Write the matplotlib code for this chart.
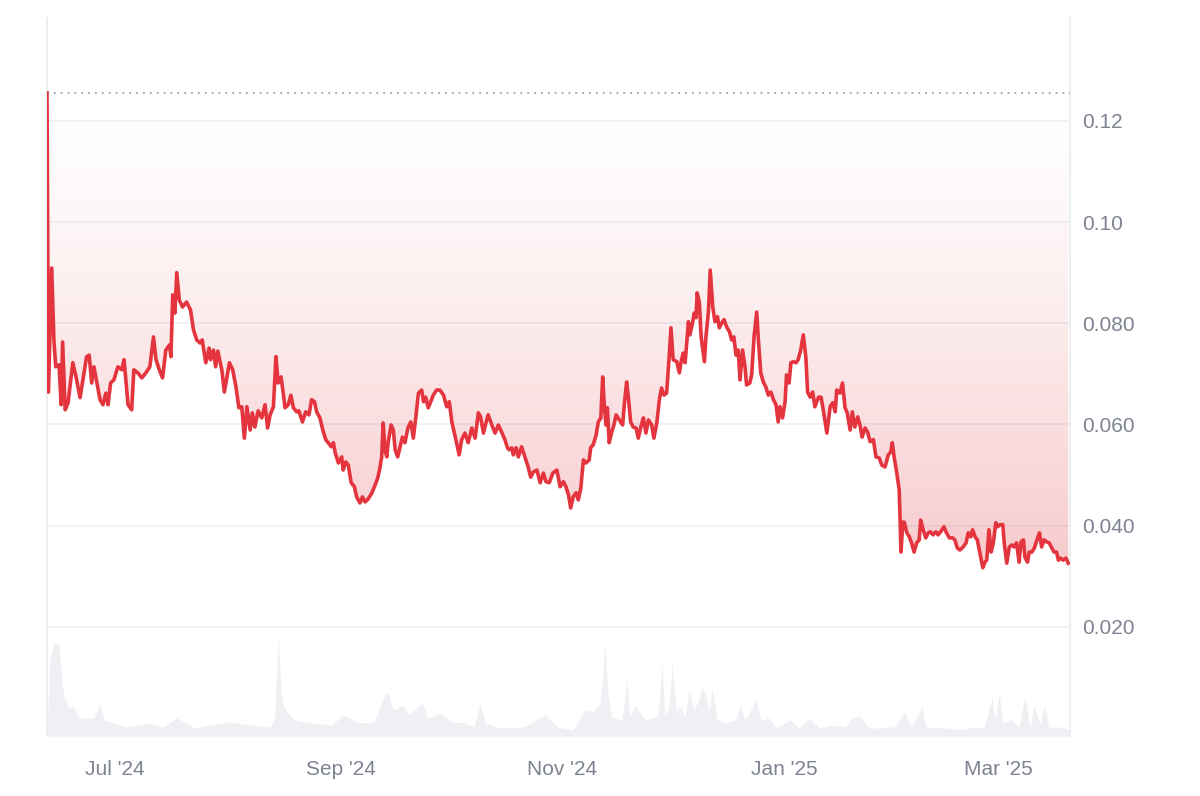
import numpy as np
import pandas as pd
import matplotlib
matplotlib.use("Agg")
import matplotlib.pyplot as plt
import matplotlib.dates as mdates
from matplotlib.ticker import FixedLocator, FixedFormatter

plt.rcParams["font.family"] = ["Liberation Sans", "DejaVu Sans"]

LINE = "#e4353f"
GRID = "#eef0f2"
TEXT = "#7d8391"
VOL = "#eef0f3"

START = pd.Timestamp("2024-06-12 06:00")
SPAN_DAYS = 281.5
BASE = 0.1255  # opening price, dotted reference line
Y_MIN, Y_MAX = -0.00154, 0.1403

# price: days since START, value in USD
days = [
    0.0, 0.4, 1.3, 1.9, 2.4, 3.3, 3.9, 4.3, 5.0, 5.8, 7.1, 8.0, 9.1, 10.9, 11.6, 12.3, 12.9,
    14.6, 15.4, 16.2, 16.8, 17.5, 18.4, 19.5, 20.6, 21.2, 22.3, 23.3, 23.9, 25.0, 26.1, 27.2,
    28.3, 29.3, 30.0, 30.9, 31.8, 32.7, 33.7, 34.1, 34.6, 35.2, 35.7, 36.4, 37.3, 38.4, 39.5,
    40.3, 41.2, 42.1, 42.7, 43.7, 44.6, 45.0, 45.8, 46.4, 47.0, 48.1, 48.8, 50.2, 51.1, 52.0,
    52.8, 53.6, 54.3, 55.0, 55.9, 56.5, 57.2, 58.1, 59.1, 60.0, 60.7, 61.4, 62.3, 63.0, 63.6,
    64.4, 65.0, 65.5, 66.4, 67.1, 67.8, 68.7, 69.3, 70.3, 71.2, 72.1, 72.8, 73.6, 74.2, 75.1,
    75.9, 76.7, 77.4, 78.2, 78.8, 79.3, 80.2, 81.1, 81.5, 82.2, 82.9, 83.7, 84.6, 85.2, 86.1,
    86.8, 87.5, 88.4, 89.4, 90.1, 91.0, 91.6, 92.1, 92.5, 93.0, 93.5, 93.9, 94.7, 95.3, 95.8,
    96.5, 97.1, 97.8, 98.5, 99.3, 100.1, 100.8, 101.5, 102.2, 103.1, 103.6, 104.2, 104.9,
    105.6, 106.3, 107.2, 108.1, 109.1, 110.0, 110.7, 111.4, 112.1, 112.7, 113.4, 114.1, 115.0,
    115.9, 116.9, 117.8, 118.7, 119.3, 120.1, 121.0, 121.4, 122.4, 123.3, 124.2, 125.1, 126.0,
    126.7, 127.2, 127.9, 128.3, 129.1, 129.7, 130.6, 131.5, 132.4, 133.1, 133.8, 134.8, 135.7,
    136.6, 137.3, 138.2, 139.2, 140.3, 141.2, 142.1, 142.8, 143.5, 144.1, 144.8, 145.6, 146.2,
    146.9, 147.6, 148.3, 149.2, 149.6, 150.3, 151.1, 151.7, 152.4, 152.9, 153.4, 153.8, 154.2,
    154.7, 155.4, 156.0, 156.6, 157.5, 158.4, 158.9, 159.5, 160.0, 160.6, 161.3, 162.1, 162.7,
    163.4, 164.1, 164.8, 165.5, 166.4, 167.0, 167.8, 168.5, 169.1, 169.8, 170.5, 171.2, 171.7,
    172.3, 173.3, 174.0, 174.6, 175.1, 175.6, 176.0, 176.5, 176.9, 177.7, 178.1, 178.6, 178.9,
    179.5, 180.0, 180.4, 180.9, 181.3, 182.0, 182.5, 183.2, 183.8, 184.5, 185.0, 185.7, 186.3,
    187.0, 187.8, 188.4, 189.0, 189.6, 190.2, 190.7, 191.4, 192.1, 192.5, 193.4, 193.9, 194.6,
    195.3, 195.7, 196.4, 197.1, 197.8, 198.5, 199.2, 199.9, 200.6, 201.2, 201.7, 202.4, 203.1,
    203.5, 204.2, 204.7, 205.4, 206.1, 206.7, 207.4, 208.1, 208.8, 209.3, 210.0, 210.7, 211.3,
    212.3, 213.0, 213.6, 214.6, 215.5, 216.2, 216.9, 217.3, 218.2, 218.9, 219.6, 220.2, 221.0,
    221.6, 222.3, 223.1, 223.7, 224.3, 225.1, 225.8, 226.5, 227.4, 228.1, 229.0, 229.7, 230.6,
    231.5, 232.2, 232.6, 233.1, 233.8, 234.5, 235.0, 235.5, 235.9, 236.6, 237.3, 237.9, 238.6,
    239.3, 240.0, 240.4, 241.1, 241.8, 242.5, 243.1, 243.8, 244.6, 245.2, 245.9, 246.8, 247.5,
    248.3, 249.2, 249.8, 250.5, 251.2, 252.1, 252.9, 253.5, 254.2, 254.7, 255.4, 256.0, 256.7,
    257.5, 258.1, 258.6, 259.2, 259.8, 260.4, 261.1, 261.6, 262.2, 263.0, 263.4, 264.1, 264.8,
    265.5, 266.1, 266.8, 267.5, 268.0, 268.7, 269.1, 269.8, 270.3, 271.0, 271.7, 272.4, 273.1,
    273.7, 274.4, 275.1, 275.8, 276.5, 277.1, 277.8, 278.3, 278.9, 279.6, 280.4, 281.0,
]
price = [
    0.1255, 0.0664, 0.0909, 0.0767, 0.0714, 0.0718, 0.0639, 0.0763, 0.0629, 0.0643, 0.0722,
    0.0694, 0.0653, 0.0734, 0.0737, 0.0682, 0.0714, 0.0649, 0.0639, 0.0662, 0.0639, 0.0682,
    0.0688, 0.0714, 0.0708, 0.0728, 0.0639, 0.0629, 0.0708, 0.0702, 0.0692, 0.0702, 0.0714,
    0.0773, 0.0728, 0.0708, 0.0692, 0.0747, 0.0757, 0.0734, 0.0856, 0.0820, 0.0900, 0.0846,
    0.0832, 0.0842, 0.0826, 0.0787, 0.0767, 0.0761, 0.0767, 0.0722, 0.0751, 0.0728, 0.0747,
    0.0714, 0.0745, 0.0708, 0.0664, 0.0722, 0.0708, 0.0674, 0.0633, 0.0635, 0.0573, 0.0635,
    0.0589, 0.0623, 0.0595, 0.0627, 0.0613, 0.0639, 0.0593, 0.0619, 0.0635, 0.0734, 0.0682,
    0.0694, 0.0662, 0.0633, 0.0639, 0.0658, 0.0633, 0.0625, 0.0627, 0.0605, 0.0625, 0.0619,
    0.0649, 0.0645, 0.0625, 0.0613, 0.0589, 0.0570, 0.0564, 0.0556, 0.0564, 0.0544, 0.0524,
    0.0536, 0.0510, 0.0526, 0.0520, 0.0485, 0.0477, 0.0457, 0.0445, 0.0457, 0.0447, 0.0453,
    0.0465, 0.0477, 0.0494, 0.0514, 0.0536, 0.0603, 0.0550, 0.0536, 0.0566, 0.0599, 0.0589,
    0.0550, 0.0536, 0.0554, 0.0575, 0.0564, 0.0593, 0.0605, 0.0573, 0.0615, 0.0662, 0.0668,
    0.0645, 0.0654, 0.0633, 0.0645, 0.0658, 0.0668, 0.0668, 0.0658, 0.0635, 0.0645, 0.0605,
    0.0583, 0.0564, 0.0540, 0.0570, 0.0583, 0.0564, 0.0593, 0.0573, 0.0623, 0.0615, 0.0583,
    0.0609, 0.0619, 0.0599, 0.0583, 0.0599, 0.0585, 0.0570, 0.0554, 0.0550, 0.0554, 0.0540,
    0.0554, 0.0536, 0.0556, 0.0536, 0.0516, 0.0496, 0.0506, 0.0510, 0.0485, 0.0504, 0.0487,
    0.0485, 0.0504, 0.0510, 0.0477, 0.0487, 0.0477, 0.0461, 0.0435, 0.0457, 0.0465, 0.0451,
    0.0475, 0.0530, 0.0524, 0.0530, 0.0554, 0.0560, 0.0579, 0.0605, 0.0613, 0.0694, 0.0633,
    0.0599, 0.0633, 0.0564, 0.0585, 0.0599, 0.0619, 0.0609, 0.0599, 0.0643, 0.0684, 0.0652,
    0.0605, 0.0595, 0.0593, 0.0573, 0.0595, 0.0613, 0.0583, 0.0609, 0.0599, 0.0573, 0.0603,
    0.0649, 0.0672, 0.0658, 0.0662, 0.0734, 0.0791, 0.0728, 0.0724, 0.0702, 0.0728, 0.0741,
    0.0722, 0.0757, 0.0803, 0.0777, 0.0803, 0.0820, 0.0811, 0.0860, 0.0842, 0.0773, 0.0751,
    0.0724, 0.0771, 0.0822, 0.0905, 0.0832, 0.0803, 0.0813, 0.0791, 0.0801, 0.0807, 0.0793,
    0.0783, 0.0767, 0.0773, 0.0737, 0.0747, 0.0688, 0.0747, 0.0712, 0.0678, 0.0682, 0.0698,
    0.0777, 0.0822, 0.0773, 0.0702, 0.0684, 0.0674, 0.0658, 0.0664, 0.0649, 0.0639, 0.0605,
    0.0635, 0.0613, 0.0645, 0.0698, 0.0682, 0.0722, 0.0724, 0.0722, 0.0728, 0.0747, 0.0777,
    0.0734, 0.0664, 0.0654, 0.0664, 0.0635, 0.0654, 0.0654, 0.0629, 0.0583, 0.0635, 0.0643,
    0.0625, 0.0668, 0.0662, 0.0682, 0.0633, 0.0623, 0.0589, 0.0625, 0.0595, 0.0615, 0.0599,
    0.0575, 0.0593, 0.0585, 0.0566, 0.0570, 0.0536, 0.0534, 0.0520, 0.0516, 0.0540, 0.0546,
    0.0564, 0.0536, 0.0506, 0.0471, 0.0348, 0.0407, 0.0407, 0.0386, 0.0378, 0.0366, 0.0348,
    0.0366, 0.0372, 0.0411, 0.0392, 0.0376, 0.0386, 0.0388, 0.0382, 0.0388, 0.0382, 0.0388,
    0.0398, 0.0386, 0.0376, 0.0376, 0.0372, 0.0356, 0.0352, 0.0358, 0.0366, 0.0386, 0.0378,
    0.0392, 0.0378, 0.0372, 0.0346, 0.0317, 0.0328, 0.0332, 0.0392, 0.0348, 0.0366, 0.0406,
    0.0398, 0.0402, 0.0402, 0.0366, 0.0326, 0.0358, 0.0362, 0.0358, 0.0366, 0.0328, 0.0368,
    0.0372, 0.0338, 0.0328, 0.0348, 0.0348, 0.0356, 0.0372, 0.0386, 0.0358, 0.0372, 0.0368,
    0.0366, 0.0356, 0.0348, 0.0348, 0.0332, 0.0336, 0.0332, 0.0336, 0.0326,
]

# trading volume (relative units)
vol_days = [
    0.0, 0.8, 1.9, 3.3, 4.1, 4.7, 6.1, 7.2, 8.8, 12.9, 14.6, 15.7, 18.2, 21.5, 27.8, 31.9,
    35.8, 40.5, 44.6, 50.4, 55.3, 61.6, 62.7, 63.6, 64.4, 65.2, 68.0, 72.1, 78.4, 81.5, 85.9,
    90.0, 91.6, 93.3, 94.1, 95.2, 98.0, 99.6, 103.2, 104.8, 108.4, 111.7, 114.2, 117.5, 119.2,
    120.5, 124.9, 131.3, 137.0, 140.6, 144.7, 148.0, 150.2, 152.2, 153.0, 153.5, 154.4, 155.5,
    158.2, 159.6, 160.4, 161.8, 164.6, 167.9, 168.7, 169.2, 170.0, 171.2, 172.0, 173.1, 174.2,
    175.6, 176.7, 178.0, 179.4, 180.2, 181.3, 182.2, 183.0, 184.4, 186.8, 189.6, 190.7, 192.1,
    195.1, 196.5, 198.7, 200.6, 204.5, 206.9, 209.7, 212.4, 215.5, 219.6, 221.8, 224.0, 226.2,
    229.2, 233.1, 236.1, 237.8, 240.8, 241.9, 247.1, 251.5, 255.1, 257.8, 260.0, 260.9, 262.0,
    263.1, 265.3, 267.5, 269.1, 270.5, 271.6, 273.3, 274.4, 275.7, 279.0, 281.5,
]
volume = [
    5, 76, 93, 91, 56, 39, 28, 30, 18, 18, 33, 16, 13, 9, 13, 9,
    18, 8, 11, 14, 11, 9, 20, 101, 45, 28, 16, 13, 11, 21, 13,
    14, 29, 44, 41, 26, 31, 21, 33, 18, 23, 13, 14, 9, 33,
    13, 8, 9, 21, 9, 6, 26, 24, 33, 60, 94, 40, 19,
    16, 56, 19, 31, 16, 19, 40, 74, 19, 30, 73, 26, 29,
    20, 46, 26, 36, 48, 41, 25, 48, 16, 13, 16, 31, 16,
    36, 16, 18, 8, 16, 8, 18, 8, 11, 9, 19, 19, 8,
    8, 9, 24, 9, 29, 9, 8, 6, 9, 8, 38, 16, 43,
    13, 16, 9, 39, 9, 29, 12, 31, 9, 9, 6,
]

y_ticks = [0.02, 0.04, 0.06, 0.08, 0.10, 0.12]
y_labels = ["0.020", "0.040", "0.060", "0.080", "0.10", "0.12"]
x_ticks = ["2024-07-01", "2024-09-01", "2024-11-01", "2025-01-01", "2025-03-01"]


def to_dates(d):
    return START + pd.to_timedelta(np.asarray(d, dtype=float), unit="D")


fig = plt.figure(figsize=(12, 7.96), dpi=100)
ax = fig.add_axes([47 / 1200, 1 - 736 / 796, (1070 - 47) / 1200, (736 - 18) / 796])

t = to_dates(days)
p = np.asarray(price)
x0, x1 = START, START + pd.Timedelta(days=SPAN_DAYS)

# volume in the background on a twin axis
axv = ax.twinx()
axv.fill_between(to_dates(vol_days), volume, 0, color=VOL, lw=0, zorder=1)
axv.set_ylim(0, 718)
axv.axis("off")
ax.set_zorder(axv.get_zorder() + 1)
ax.patch.set_visible(False)

# gradient fill between line and opening price, stronger towards the bottom
poly = ax.fill_between(t, p, BASE, color="none", lw=0)
n = 256
frac = np.linspace(1, 0, n)  # 1 at bottom of axes, 0 at the base line
rgba = np.zeros((n, 1, 4))
rgba[..., 0], rgba[..., 1], rgba[..., 2] = 0.89, 0.21, 0.25
rgba[:, 0, 3] = 0.40 * frac ** 1.35
im = ax.imshow(rgba, aspect="auto", origin="lower",
               extent=[mdates.date2num(x0), mdates.date2num(x1), Y_MIN, BASE], zorder=2)
im.set_clip_path(poly.get_paths()[0], transform=ax.transData)

ax.axhline(BASE, color="#9ca3af", lw=1.3, ls=(0, (1, 2.8)), zorder=3)
ax.plot(t, p, color=LINE, lw=2.6, solid_joinstyle="round", zorder=4)

ax.set_xlim(x0, x1)
ax.set_ylim(Y_MIN, Y_MAX)

ax.yaxis.tick_right()
ax.yaxis.set_major_locator(FixedLocator(y_ticks))
ax.yaxis.set_major_formatter(FixedFormatter(y_labels))
ax.xaxis.set_major_locator(FixedLocator(mdates.date2num(pd.to_datetime(x_ticks))))
ax.xaxis.set_major_formatter(mdates.DateFormatter("%b '%y"))
ax.tick_params(axis="y", length=0, pad=9, labelsize=15, labelcolor=TEXT)
ax.tick_params(axis="x", length=0, pad=17, labelsize=15, labelcolor=TEXT)
ax.grid(axis="y", color=GRID, lw=1.2, zorder=0)
ax.set_axisbelow(True)

for side in ["top", "bottom"]:
    ax.spines[side].set_visible(False)
for side in ["left", "right"]:
    ax.spines[side].set_color("#e9ebee")
    ax.spines[side].set_linewidth(1.2)

fig.savefig("out.png", dpi=100, facecolor="white")
